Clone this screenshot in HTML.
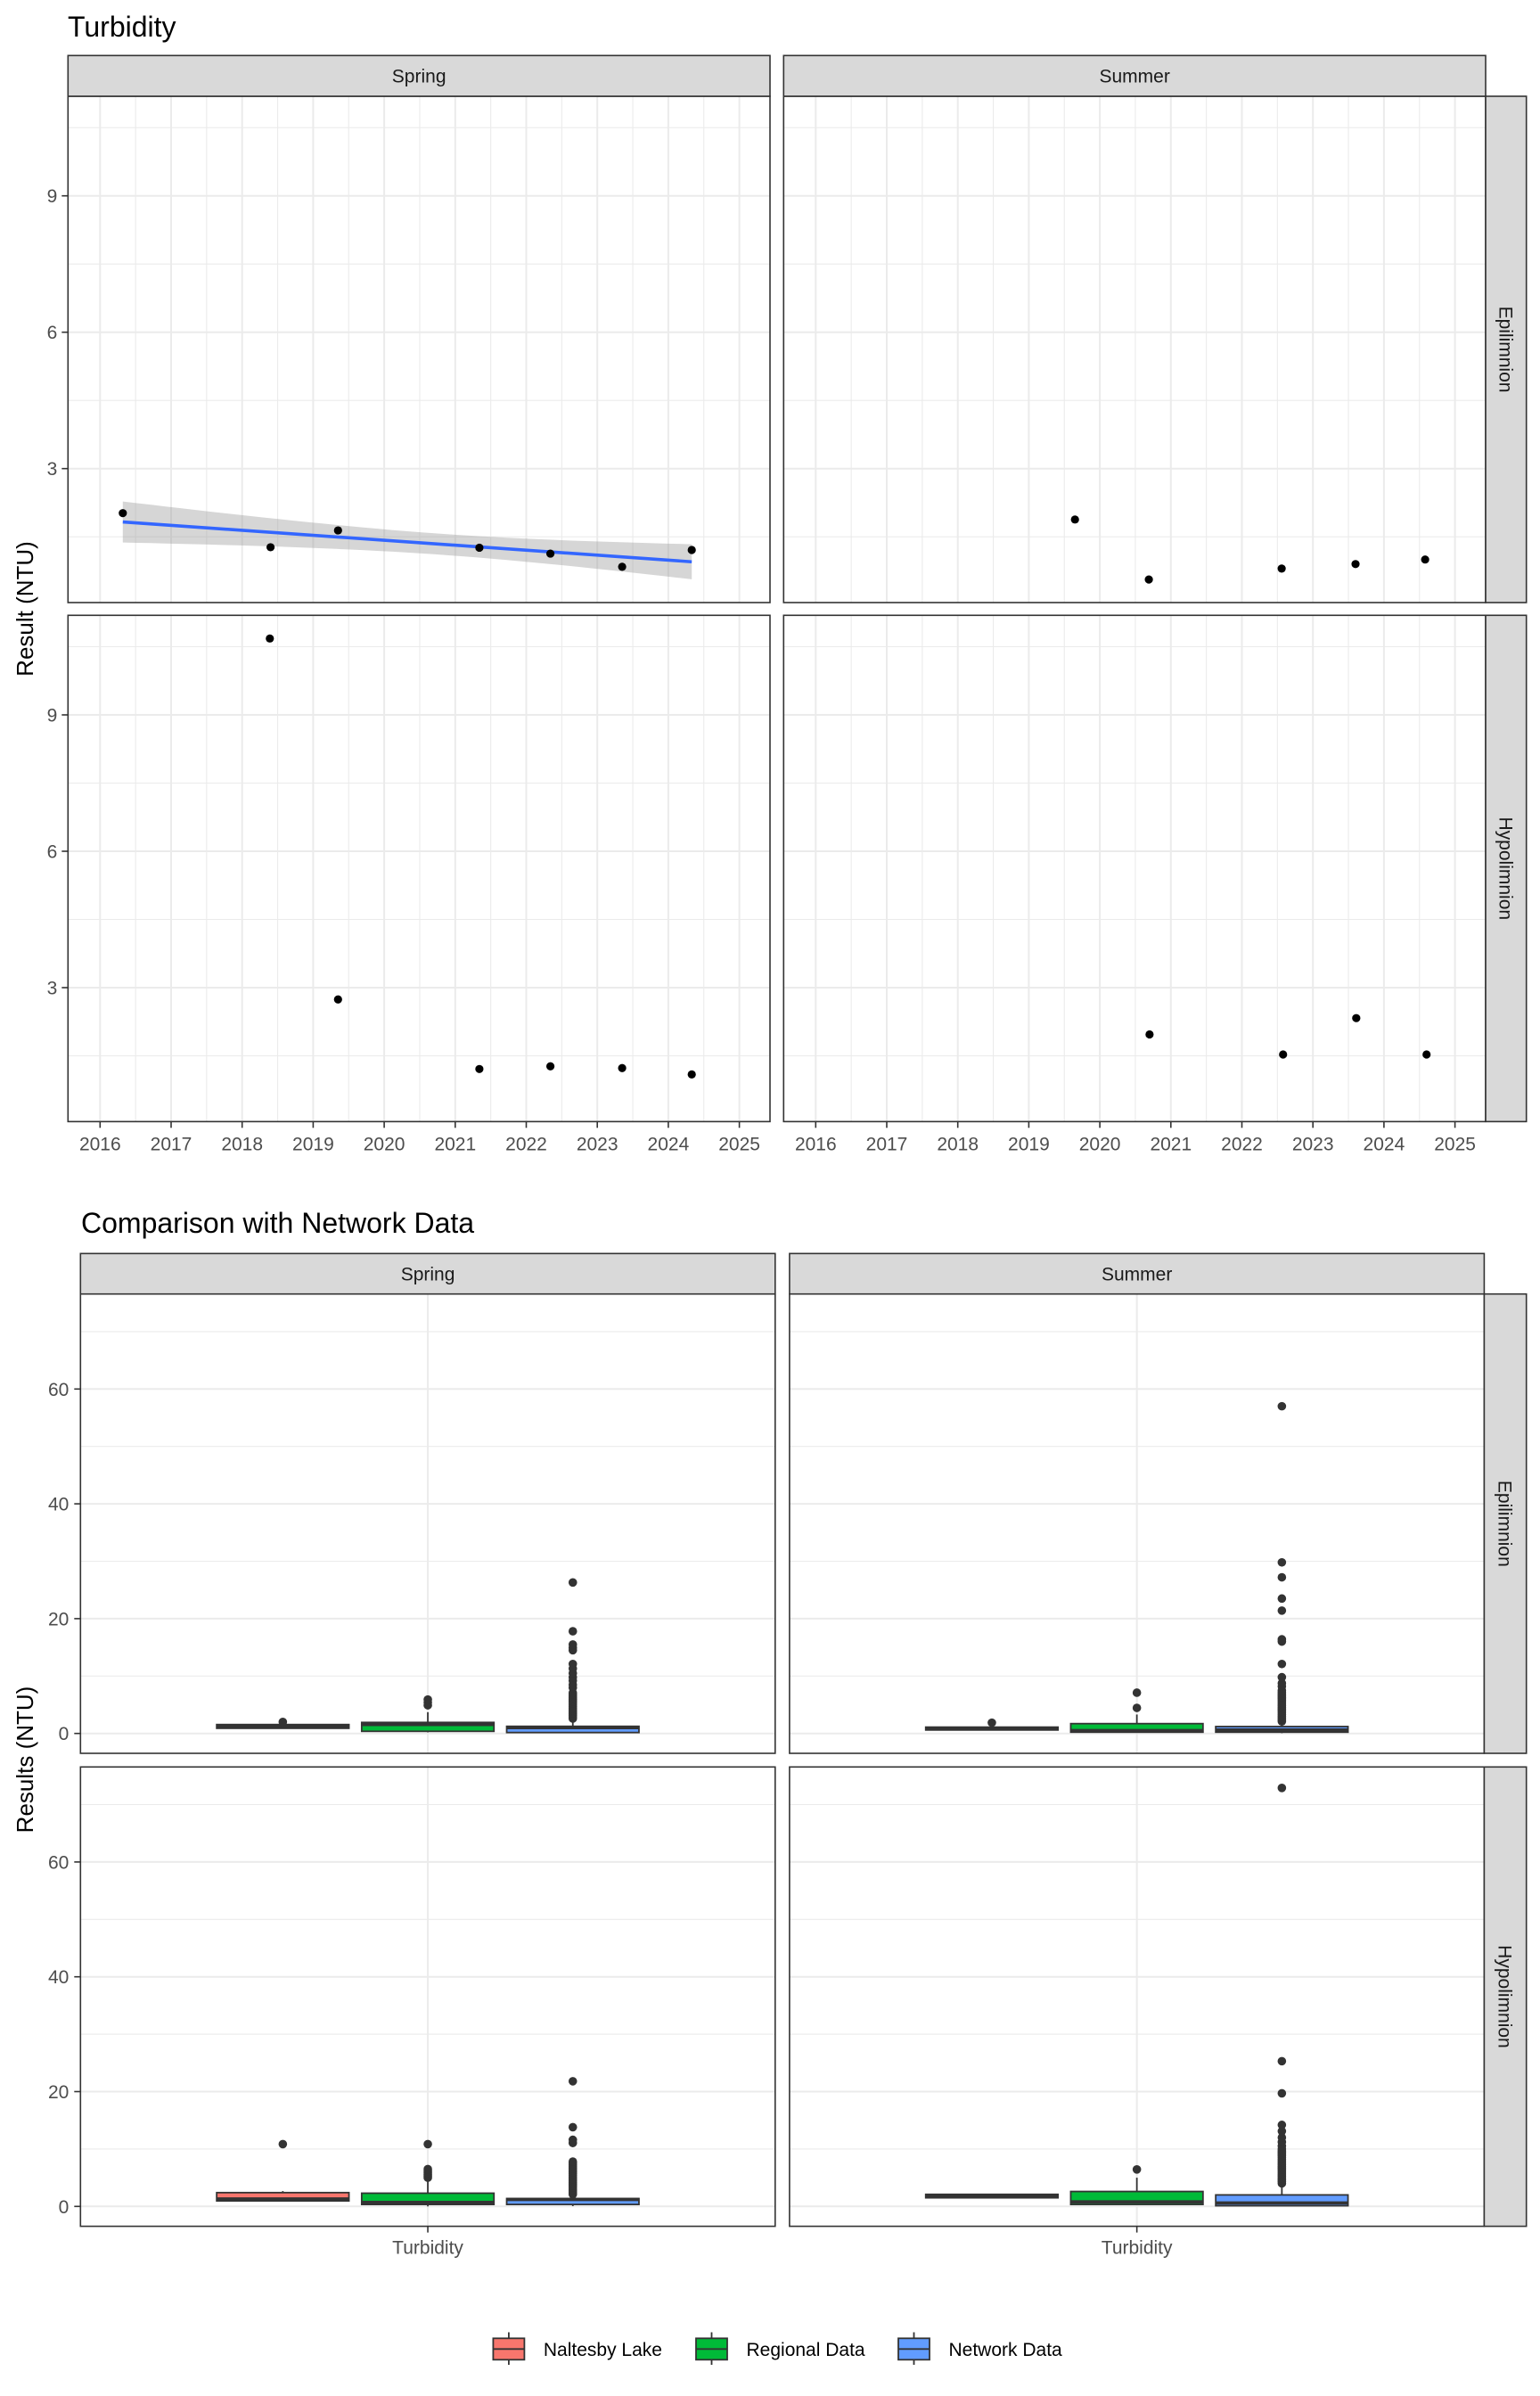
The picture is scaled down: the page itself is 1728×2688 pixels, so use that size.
<!DOCTYPE html>
<html><head><meta charset="utf-8"><title>Turbidity</title>
<style>
html,body{margin:0;padding:0;background:#fff;}
svg{display:block;font-family:"Liberation Sans",Arial,sans-serif;}
</style></head>
<body>
<svg id="chart" xmlns="http://www.w3.org/2000/svg" width="1728" height="2688" viewBox="0 0 1728 2688">
<rect x="0" y="0" width="1728" height="2688" fill="#fff"/>
<text x="76" y="41" font-size="32" fill="#000">Turbidity</text>
<text x="91" y="1383" font-size="32" fill="#000">Comparison with Network Data</text>
<text transform="translate(37,683) rotate(-90)" text-anchor="middle" font-size="26" fill="#000">Result (NTU)</text>
<text transform="translate(37,1974) rotate(-90)" text-anchor="middle" font-size="26" fill="#000">Results (NTU)</text>
<g id="topchart"></g>
<g id="bottomchart"></g>
<g id="legend"></g>
</svg>
<script>
// ---------- Top chart data ----------
const yearTicks = [2016, 2017, 2018, 2019, 2020, 2021, 2022, 2023, 2024, 2025];
const yTicksTop = [3, 6, 9];
const seasons = ["Spring", "Summer"];
const layers = ["Epilimnion", "Hypolimnion"];
const springEpiYear = [2016.32, 2018.40, 2019.35, 2021.34, 2022.34, 2023.35, 2024.33];
const springEpiVal = [2.02, 1.27, 1.64, 1.26, 1.13, 0.84, 1.21];
const summerEpiYear = [2019.65, 2020.69, 2022.56, 2023.60, 2024.58];
const summerEpiVal = [1.88, 0.56, 0.80, 0.90, 1.00];
const springHypoYear = [2018.39, 2019.35, 2021.34, 2022.34, 2023.35, 2024.33];
const springHypoVal = [10.68, 2.74, 1.21, 1.27, 1.23, 1.09];
const summerHypoYear = [2020.70, 2022.58, 2023.61, 2024.60];
const summerHypoVal = [1.97, 1.53, 2.33, 1.53];

// ---------- Bottom chart data ----------
const groups = ["Naltesby Lake", "Regional Data", "Network Data"];
const yTicksBottom = [0, 20, 40, 60];
// stats: [lower whisker, q1, median, q3, upper whisker]
const springEpiStats = [[0.85, 0.9, 1.2, 1.55, 1.6], [0.2, 0.37, 1.55, 1.92, 3.7], [0.05, 0.16, 1.0, 1.24, 2.4]];
const springEpiOut = [[2.0], [4.9, 5.4, 5.9],
  [2.6, 2.9, 3.2, 3.5, 3.8, 4.1, 4.4, 4.7, 5.0, 5.3, 5.6, 5.9, 6.2, 6.5, 6.8, 7.1, 7.97, 8.5, 9.2, 9.77, 10.5, 11.3, 12.1, 14.5, 14.95, 15.5, 17.8, 26.3]];
const summerEpiStats = [[0.53, 0.6, 0.85, 1.1, 1.15], [0.1, 0.22, 0.5, 1.71, 3.3], [0.05, 0.22, 0.6, 1.2, 1.9]];
const summerEpiOut = [[1.87], [4.45, 7.1],
  [2.1, 2.4, 2.7, 3.0, 3.3, 3.6, 3.9, 4.2, 4.5, 4.8, 5.1, 5.4, 5.7, 6.0, 6.3, 6.6, 6.9, 7.2, 7.5, 8.2, 8.75, 9.8, 12.1, 16.0, 16.4, 21.4, 23.5, 27.2, 29.8, 57.0]];
const springHypoStats = [[0.96, 0.96, 1.3, 2.4, 2.67], [0.0, 0.34, 0.7, 2.3, 4.84], [0.05, 0.34, 1.2, 1.37, 2.0]];
const springHypoOut = [[10.85], [5.0, 5.3, 5.6, 5.9, 6.2, 6.5, 10.85],
  [2.1, 2.4, 2.7, 3.0, 3.3, 3.6, 3.9, 4.2, 4.5, 4.8, 5.1, 5.4, 5.7, 6.0, 6.3, 6.6, 6.9, 7.2, 7.5, 7.8, 11.05, 11.6, 13.8, 21.8]];
const summerHypoStats = [[1.43, 1.5, 1.8, 2.1, 2.2], [0.2, 0.34, 0.8, 2.6, 5.0], [0.12, 0.12, 0.6, 2.0, 3.8]];
const summerHypoOut = [[], [6.44],
  [4.0, 4.3, 4.6, 4.9, 5.2, 5.5, 5.8, 6.1, 6.4, 6.7, 7.0, 7.3, 7.6, 7.9, 8.2, 8.5, 8.8, 9.1, 9.4, 9.7, 10.0, 10.5, 11.2, 12.0, 13.1, 14.2, 19.7, 25.3, 72.9]];
const groupColors = ["#F8766D", "#00BA38", "#619CFF"];

const NS = "http://www.w3.org/2000/svg";
function mk(parent, tag, attrs) {
  const e = document.createElementNS(NS, tag);
  for (const k in attrs) e.setAttribute(k, attrs[k]);
  parent.appendChild(e);
  return e;
}

// ================= TOP CHART =================
const topG = document.getElementById("topchart");
const T = { colL: [76.3, 879.3], colW: 787.7, rowT: [108, 690.3], rowH: 568, stripT: 62.3, stripR: 1712.7 };
function xYear(col, yr) { return T.colL[col] + 36 + (yr - 2016) * 79.7; }
function yTop(row, v) { return T.rowT[row] + 570.7 - 51 * v; }
const topData = [
  [[springEpiYear, springEpiVal], [summerEpiYear, summerEpiVal]],
  [[springHypoYear, springHypoVal], [summerHypoYear, summerHypoVal]]
];

for (let r = 0; r < 2; r++) {
  for (let c = 0; c < 2; c++) {
    const g = mk(topG, "g", {});
    
    
    const L = T.colL[c], R = L + T.colW, TT = T.rowT[r], B = TT + T.rowH;
    for (let i = 0; i < yearTicks.length; i++) {
      const x = xYear(c, yearTicks[i] + 0.5);
      if (x > L && x < R) mk(g, "line", { x1: x, x2: x, y1: TT, y2: B, stroke: "#EBEBEB", "stroke-width": 1.1 });
      const xm = xYear(c, yearTicks[i] - 0.5);
      if (i === 0 && xm > L) mk(g, "line", { x1: xm, x2: xm, y1: TT, y2: B, stroke: "#EBEBEB", "stroke-width": 1.1 });
    }
    for (const v of [1.5, 4.5, 7.5, 10.5]) {
      const y = yTop(r, v);
      mk(g, "line", { x1: L, x2: R, y1: y, y2: y, stroke: "#EBEBEB", "stroke-width": 1.1 });
    }
    for (const yr of yearTicks) {
      const x = xYear(c, yr);
      mk(g, "line", { x1: x, x2: x, y1: TT, y2: B, stroke: "#EBEBEB", "stroke-width": 2 });
    }
    for (const v of yTicksTop) {
      const y = yTop(r, v);
      mk(g, "line", { x1: L, x2: R, y1: y, y2: y, stroke: "#EBEBEB", "stroke-width": 2 });
    }
    if (r === 0 && c === 0) {
      const xs = springEpiYear, ys = springEpiVal, n = xs.length;
      const mx = xs.reduce((a, b) => a + b, 0) / n, my = ys.reduce((a, b) => a + b, 0) / n;
      let sxx = 0, sxy = 0;
      for (let i = 0; i < n; i++) { sxx += (xs[i] - mx) ** 2; sxy += (xs[i] - mx) * (ys[i] - my); }
      const b = sxy / sxx, a = my - b * mx;
      let ss = 0;
      for (let i = 0; i < n; i++) ss += (ys[i] - (a + b * xs[i])) ** 2;
      const s = Math.sqrt(ss / (n - 2)), tq = 2.571;
      const x0 = Math.min(...xs), x1 = Math.max(...xs);
      let upper = [], lower = [];
      for (let k = 0; k <= 40; k++) {
        const xv = x0 + (x1 - x0) * k / 40;
        const fit = a + b * xv, se = s * Math.sqrt(1 / n + (xv - mx) ** 2 / sxx);
        upper.push(xYear(c, xv).toFixed(1) + "," + yTop(r, fit + tq * se).toFixed(1));
        lower.unshift(xYear(c, xv).toFixed(1) + "," + yTop(r, fit - tq * se).toFixed(1));
      }
      const rib = mk(g, "polygon", { points: upper.concat(lower).join(" "), fill: "#999999", "fill-opacity": 0.4 });
      
      
      const ln = mk(g, "line", { x1: xYear(c, x0), y1: yTop(r, a + b * x0), x2: xYear(c, x1), y2: yTop(r, a + b * x1), stroke: "#3366FF", "stroke-width": 3.6 });
      
      
    }
    const [xs, ys] = topData[r][c];
    for (let i = 0; i < xs.length; i++) {
      const p = mk(g, "circle", { cx: xYear(c, xs[i]), cy: yTop(r, ys[i]), r: 4.6, fill: "#000" });
      
      
    }
    mk(g, "rect", { x: L, y: TT, width: T.colW, height: T.rowH, fill: "none", stroke: "#333", "stroke-width": 1.6 });
    if (c === 0) {
      for (const v of yTicksTop) {
        const y = yTop(r, v);
        mk(g, "line", { x1: L - 7, x2: L, y1: y, y2: y, stroke: "#333", "stroke-width": 1.6 });
        const t = mk(g, "text", { x: L - 12, y: y + 7.5, "text-anchor": "end", "font-size": 21, fill: "#4D4D4D" });
        t.textContent = v;
        
        
      }
    }
    if (r === 1) {
      for (const yr of yearTicks) {
        const x = xYear(c, yr);
        mk(g, "line", { x1: x, x2: x, y1: B, y2: B + 7, stroke: "#333", "stroke-width": 1.6 });
        const t = mk(g, "text", { x: x, y: B + 32, "text-anchor": "middle", "font-size": 21, fill: "#4D4D4D" });
        t.textContent = yr;
        
        
      }
    }
  }
}
function strips(parent, colL, colW, stripT, stripB, rowT, rowH, rightL, rightR) {
  for (let c = 0; c < 2; c++) {
    const s = mk(parent, "g", {});
    
    
    mk(s, "rect", { x: colL[c], y: stripT, width: colW, height: stripB - stripT, fill: "#D9D9D9", stroke: "#333", "stroke-width": 1.6 });
    const t = mk(s, "text", { x: colL[c] + colW / 2, y: (stripT + stripB) / 2 + 7.5, "text-anchor": "middle", "font-size": 21, fill: "#1A1A1A" });
    t.textContent = seasons[c];
  }
  for (let r = 0; r < 2; r++) {
    const s = mk(parent, "g", {});
    
    
    mk(s, "rect", { x: rightL, y: rowT[r], width: rightR - rightL, height: rowH, fill: "#D9D9D9", stroke: "#333", "stroke-width": 1.6 });
    const cx = (rightL + rightR) / 2, cy = rowT[r] + rowH / 2;
    const t = mk(s, "text", { transform: "translate(" + (cx - 7.5) + "," + cy + ") rotate(90)", "text-anchor": "middle", "font-size": 21, fill: "#1A1A1A" });
    t.textContent = layers[r];
  }
}
strips(topG, T.colL, T.colW, T.stripT, T.rowT[0], T.rowT, T.rowH, T.colL[1] + T.colW, T.stripR);

// ================= BOTTOM CHART =================
const botG = document.getElementById("bottomchart");
const Bc = { colL: [90.3, 885.9], colW: 779.5, rowT: [1451.7, 1982.3], rowH: 515.3, stripT: 1406.3, stripR: 1712.7 };
function yBot(row, v) { return Bc.rowT[row] + 493 - 6.44 * v; }
function xGroup(col, gi) { return Bc.colL[col] + Bc.colW / 2 + (gi - 1) * 162.7; }
const botStats = [[springEpiStats, summerEpiStats], [springHypoStats, summerHypoStats]];
const botOut = [[springEpiOut, summerEpiOut], [springHypoOut, summerHypoOut]];
for (let r = 0; r < 2; r++) {
  for (let c = 0; c < 2; c++) {
    const g = mk(botG, "g", {});
    
    
    const L = Bc.colL[c], R = L + Bc.colW, TT = Bc.rowT[r], B = TT + Bc.rowH, cx = L + Bc.colW / 2;
    for (const v of [10, 30, 50, 70]) {
      const y = yBot(r, v);
      mk(g, "line", { x1: L, x2: R, y1: y, y2: y, stroke: "#EBEBEB", "stroke-width": 1.1 });
    }
    for (const v of yTicksBottom) {
      const y = yBot(r, v);
      mk(g, "line", { x1: L, x2: R, y1: y, y2: y, stroke: "#EBEBEB", "stroke-width": 2 });
    }
    mk(g, "line", { x1: cx, x2: cx, y1: TT, y2: B, stroke: "#EBEBEB", "stroke-width": 2 });
    for (let gi = 0; gi < 3; gi++) {
      const st = botStats[r][c][gi], xc = xGroup(c, gi), hw = 74.2;
      const bx = mk(g, "g", {});
      
      
      mk(bx, "line", { x1: xc, x2: xc, y1: yBot(r, st[0]), y2: yBot(r, st[1]), stroke: "#333", "stroke-width": 1.8 });
      mk(bx, "line", { x1: xc, x2: xc, y1: yBot(r, st[3]), y2: yBot(r, st[4]), stroke: "#333", "stroke-width": 1.8 });
      mk(bx, "rect", { x: xc - hw, y: yBot(r, st[3]), width: 2 * hw, height: Math.max(0.5, yBot(r, st[1]) - yBot(r, st[3])), fill: groupColors[gi], stroke: "#333", "stroke-width": 1.8 });
      mk(bx, "line", { x1: xc - hw, x2: xc + hw, y1: yBot(r, st[2]), y2: yBot(r, st[2]), stroke: "#333", "stroke-width": 3.6 });
      for (const v of botOut[r][c][gi]) {
        const o = mk(bx, "circle", { cx: xc, cy: yBot(r, v), r: 4.8, fill: "#333" });
        
        
      }
    }
    mk(g, "rect", { x: L, y: TT, width: Bc.colW, height: Bc.rowH, fill: "none", stroke: "#333", "stroke-width": 1.6 });
    if (c === 0) {
      for (const v of yTicksBottom) {
        const y = yBot(r, v);
        mk(g, "line", { x1: L - 7, x2: L, y1: y, y2: y, stroke: "#333", "stroke-width": 1.6 });
        const t = mk(g, "text", { x: L - 13, y: y + 7.5, "text-anchor": "end", "font-size": 21, fill: "#4D4D4D" });
        t.textContent = v;
        
        
      }
    }
    if (r === 1) {
      mk(g, "line", { x1: cx, x2: cx, y1: B, y2: B + 7, stroke: "#333", "stroke-width": 1.6 });
      const t = mk(g, "text", { x: cx, y: B + 31, "text-anchor": "middle", "font-size": 21, fill: "#4D4D4D" });
      t.textContent = "Turbidity";
      
      
    }
  }
}
strips(botG, Bc.colL, Bc.colW, Bc.stripT, Bc.rowT[0], Bc.rowT, Bc.rowH, Bc.colL[1] + Bc.colW, Bc.stripR);

// ================= LEGEND =================
const leg = document.getElementById("legend");
const legKeyX = [553.4, 781, 1008];
for (let gi = 0; gi < 3; gi++) {
  const it = mk(leg, "g", {});
  
  
  const x = legKeyX[gi], w = 35, y0 = 2623.3, h = 24;
  mk(it, "line", { x1: x + w / 2, x2: x + w / 2, y1: 2616.5, y2: 2653, stroke: "#333", "stroke-width": 1.8 });
  mk(it, "rect", { x: x, y: y0, width: w, height: h, fill: groupColors[gi], stroke: "#333", "stroke-width": 1.8 });
  mk(it, "line", { x1: x, x2: x + w, y1: y0 + h / 2, y2: y0 + h / 2, stroke: "#333", "stroke-width": 1.8 });
  const t = mk(it, "text", { x: x + 56.5, y: 2643, "font-size": 21, fill: "#000" });
  t.textContent = groups[gi];
}
</script>
</body></html>
